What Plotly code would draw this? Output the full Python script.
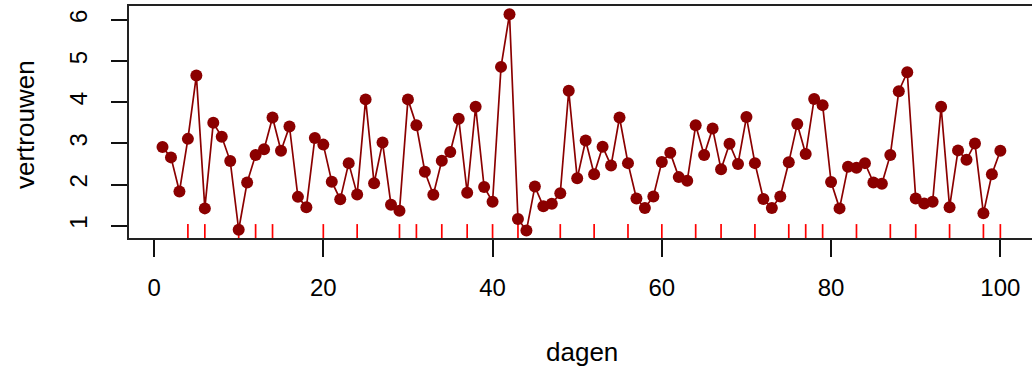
import plotly.graph_objects as go

days = list(range(1, 101))
trust = [2.91, 2.66, 1.83, 3.11, 4.65, 1.42, 3.50, 3.16, 2.57, 0.90,
         2.05, 2.72, 2.86, 3.63, 2.82, 3.41, 1.70, 1.45, 3.13, 2.97,
         2.07, 1.64, 2.52, 1.76, 4.07, 2.03, 3.02, 1.51, 1.36, 4.07,
         3.44, 2.31, 1.75, 2.58, 2.79, 3.60, 1.80, 3.89, 1.94, 1.58,
         4.86, 6.14, 1.16, 0.88, 1.95, 1.47, 1.53, 1.79, 4.28, 2.15,
         3.07, 2.25, 2.92, 2.46, 3.63, 2.52, 1.66, 1.43, 1.71, 2.55,
         2.77, 2.18, 2.09, 3.44, 2.72, 3.36, 2.37, 2.99, 2.50, 3.64,
         2.52, 1.65, 1.43, 1.71, 2.54, 3.47, 2.74, 4.08, 3.93, 2.06,
         1.42, 2.43, 2.41, 2.52, 2.05, 2.02, 2.72, 4.27, 4.73, 1.66,
         1.54, 1.58, 3.89, 1.45, 2.83, 2.60, 3.00, 1.30, 2.25, 2.82]
rug_days = [4, 6, 10, 12, 14, 20, 24, 29, 31, 34, 37, 40, 43, 48, 52, 56,
            60, 64, 67, 71, 75, 77, 79, 83, 87, 90, 94, 98, 100]
x_ticks = [0, 20, 40, 60, 80, 100]
y_ticks = [1, 2, 3, 4, 5, 6]

FONT = "Liberation Sans, Arial, sans-serif"
DARK = "#8B0000"

fig = go.Figure()
fig.add_trace(go.Scatter(
    x=days, y=trust, mode="lines+markers",
    line=dict(color=DARK, width=1.7),
    marker=dict(color=DARK, size=12),
    showlegend=False, hoverinfo="skip",
))

for d in rug_days:
    fig.add_shape(type="line", xref="x", yref="y domain",
                  x0=d, x1=d, y0=0, y1=0.06,
                  line=dict(color="#FF0000", width=1.7), layer="below")

fig.update_layout(
    width=1032, height=369,
    margin=dict(l=129, r=0, t=6, b=131, autoexpand=False),
    paper_bgcolor="white", plot_bgcolor="white",
    font=dict(family=FONT, size=24, color="#000000"),
    xaxis=dict(range=[-2.96, 103.74], tickvals=x_ticks,
               ticktext=[str(v) for v in x_ticks],
               showgrid=False, zeroline=False,
               showline=True, mirror=True, linecolor="#222222", linewidth=2,
               ticks="outside", ticklen=17, tickwidth=2, tickcolor="#111111",
               tickfont=dict(size=24), ticklabelstandoff=10),
    yaxis=dict(range=[0.70, 6.34], tickvals=y_ticks,
               ticktext=[str(v) for v in y_ticks],
               showgrid=False, zeroline=False,
               showline=True, linecolor="#222222", linewidth=2,
               ticks="outside", ticklen=16, tickwidth=2, tickcolor="#111111",
               tickangle=-90, tickfont=dict(size=24), ticklabelstandoff=14),
    annotations=[
        dict(text="vertrouwen", xref="paper", yref="paper",
             x=(25 - 129) / 903, y=(238 - 125) / 232, textangle=-90,
             showarrow=False, xanchor="center", yanchor="middle",
             font=dict(size=26)),
        dict(text="dagen", xref="paper", yref="paper",
             x=(581.5 - 129) / 903, y=(238 - 352) / 232,
             showarrow=False, xanchor="center", yanchor="middle",
             font=dict(size=26)),
    ],
)

fig.write_html("out.html",
               config={"displayModeBar": False},
               post_script="document.body.style.margin='0px';document.body.style.overflow='hidden';")
